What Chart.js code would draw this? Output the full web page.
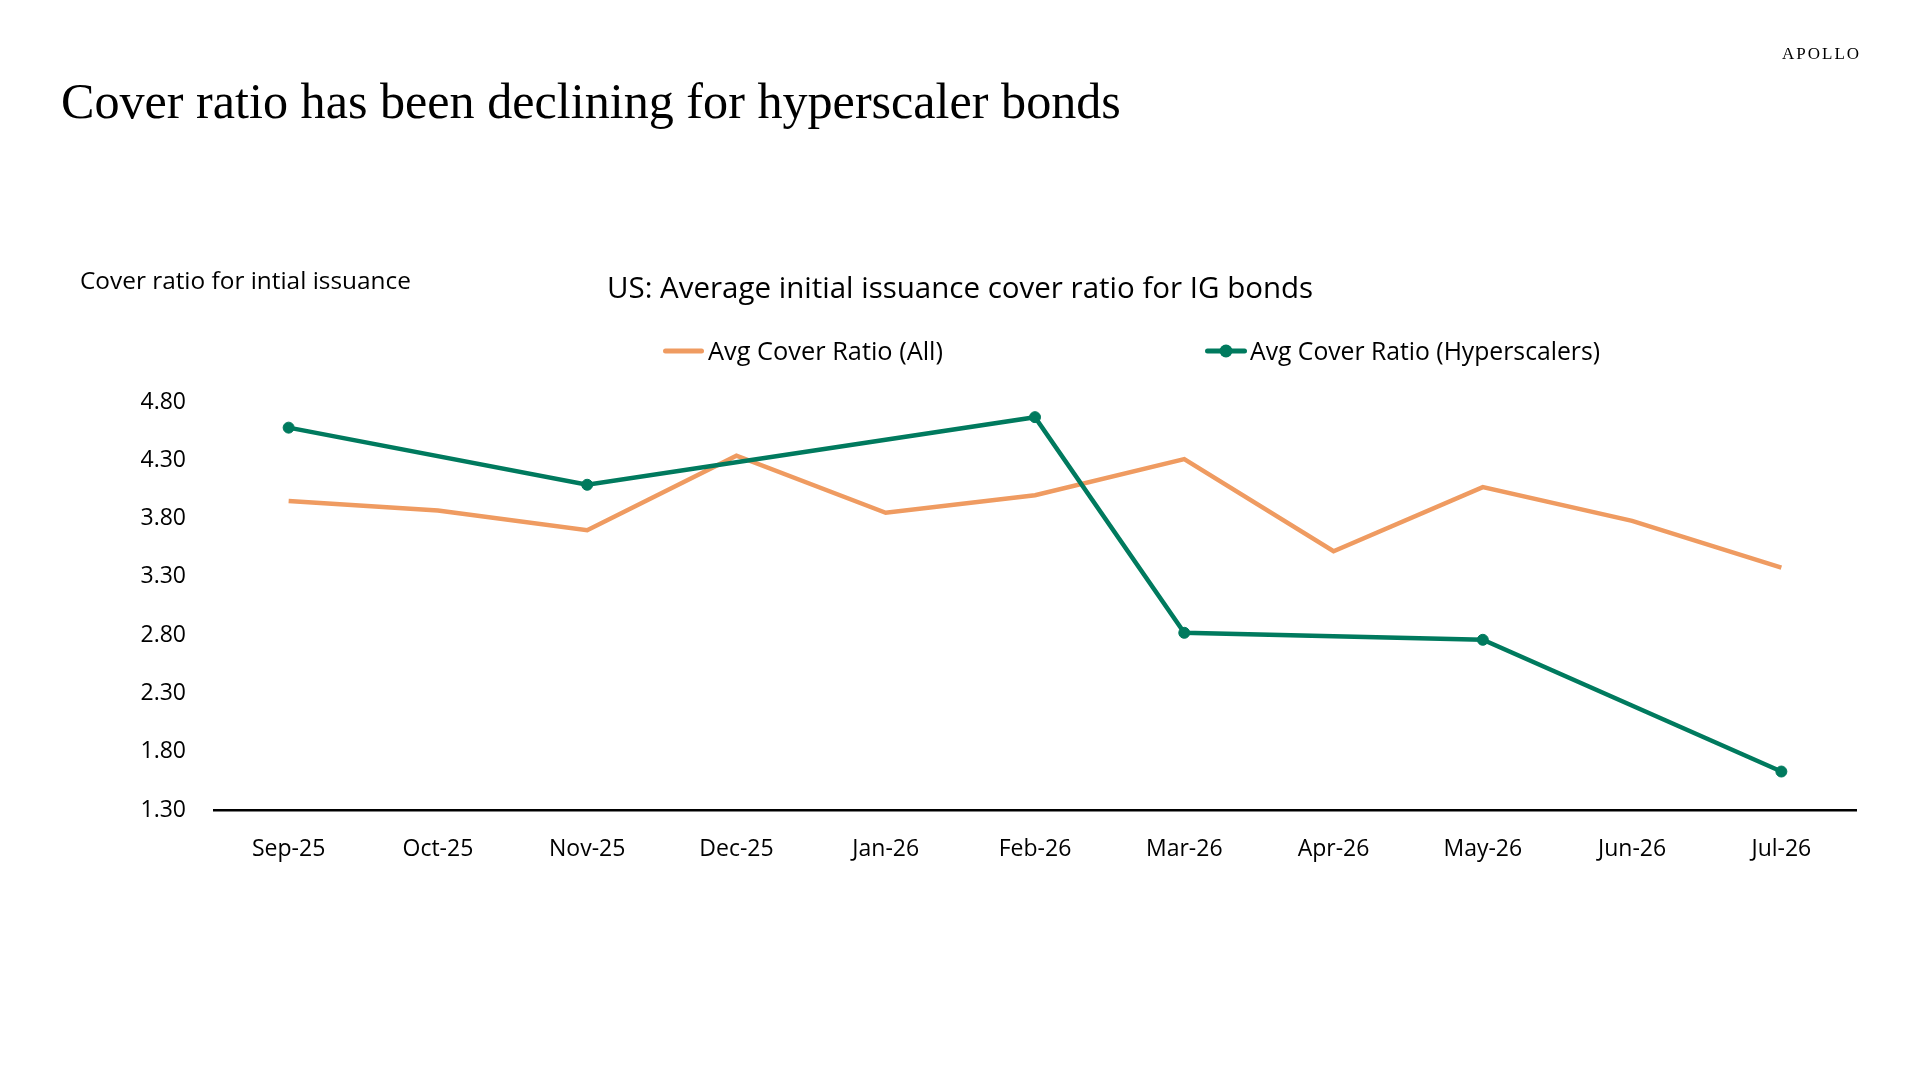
<!DOCTYPE html>
<html>
<head>
<meta charset="utf-8">
<script src="https://cdn.jsdelivr.net/npm/chart.js@4.4.1/dist/chart.umd.min.js"></script>
<style>
  html, body { margin: 0; padding: 0; background: #fff; }
  body { width: 1919px; height: 1079px; position: relative; overflow: hidden; }
  .t { position: absolute; white-space: nowrap; color: #000; line-height: 1; transform: translateY(-50%); }
  #title { font-family: "Liberation Serif", "DejaVu Serif", serif; font-size: 52px; }
  #logo { font-family: "Liberation Serif", serif; font-size: 18px; letter-spacing: 2px; }
  .sans { font-family: "Open Sans", "Noto Sans", sans-serif; }
  #wrap { position: absolute; left: 0; top: 0; width: 1919px; height: 1079px; }
  .sw { position: absolute; height: 5px; border-radius: 3px; transform: translateY(-50%); }
  .dot { position: absolute; width: 13px; height: 13px; border-radius: 50%; transform: translate(-50%, -50%); }
</style>
</head>
<body>
<div id="wrap"><canvas id="c" width="1919" height="1079"></canvas></div>
<div class="t" id="logo" data-x="1782" data-y="54" data-w="79">APOLLO</div>
<div class="t" id="title" data-x="61" data-y="101" data-w="1060">Cover ratio has been declining for hyperscaler bonds</div>
<div class="t sans" id="ytitle" style="font-size:22px" data-x="80" data-y="280" data-w="331">Cover ratio for intial issuance</div>
<div class="t sans" id="ctitle" style="font-size:29px" data-x="607" data-y="287" data-w="706">US: Average initial issuance cover ratio for IG bonds</div>
<div class="sw" id="sw1" style="left:663px; top:351px; width:41px;"></div>
<div class="t sans" id="lg1" style="font-size:24px" data-x="708" data-y="351" data-w="235"></div>
<div class="sw" id="sw2" style="left:1205px; top:351px; width:42px;"></div>
<div class="dot" id="dot2" style="left:1226px; top:351px;"></div>
<div class="t sans" id="lg2" style="font-size:24px" data-x="1250" data-y="351" data-w="350"></div>
<script>
// ---- data ----
const months = ["Sep-25","Oct-25","Nov-25","Dec-25","Jan-26","Feb-26","Mar-26","Apr-26","May-26","Jun-26","Jul-26"];
const seriesAllName = "Avg Cover Ratio (All)";
const seriesHypName = "Avg Cover Ratio (Hyperscalers)";
const avgAll = [3.95, 3.87, 3.70, 4.34, 3.85, 4.00, 4.31, 3.52, 4.07, 3.78, 3.38];
const avgHyper = [4.58, null, 4.09, null, null, 4.67, 2.82, null, 2.76, null, 1.63];
const yTicks = [1.30, 1.80, 2.30, 2.80, 3.30, 3.80, 4.30, 4.80];

const ORANGE = "#EF9B61";
const GREEN = "#007A5E";

document.getElementById('lg1').textContent = seriesAllName;
document.getElementById('lg2').textContent = seriesHypName;
document.getElementById('sw1').style.background = ORANGE;
document.getElementById('sw2').style.background = GREEN;
document.getElementById('dot2').style.background = GREEN;

function place() {
  document.querySelectorAll('.t').forEach(el => {
    el.style.left = el.dataset.x + 'px';
    el.style.top = el.dataset.y + 'px';
    const target = parseFloat(el.dataset.w);
    const w = el.getBoundingClientRect().width;
    const fs = parseFloat(getComputedStyle(el).fontSize);
    if (w > 0 && target) el.style.fontSize = (fs * target / w) + 'px';
  });
}

const SANS = '"Open Sans", "Noto Sans", sans-serif';

new Chart(document.getElementById('c'), {
  type: 'line',
  data: {
    labels: months,
    datasets: [
      {
        label: seriesAllName,
        data: avgAll,
        borderColor: ORANGE,
        backgroundColor: ORANGE,
        borderWidth: 4.5,
        pointRadius: 0,
        pointHoverRadius: 0,
        tension: 0,
        order: 2
      },
      {
        label: seriesHypName,
        data: avgHyper,
        borderColor: GREEN,
        backgroundColor: GREEN,
        borderWidth: 4.5,
        pointRadius: 5.5,
        pointBorderWidth: 1,
        pointBackgroundColor: GREEN,
        pointBorderColor: GREEN,
        spanGaps: true,
        tension: 0,
        order: 1
      }
    ]
  },
  options: {
    responsive: false,
    animation: false,
    devicePixelRatio: 1,
    layout: { padding: { left: 0, top: 402, right: 63, bottom: 209 } },
    plugins: { legend: { display: false }, title: { display: false }, tooltip: { enabled: false } },
    scales: {
      x: {
        offset: true,
        grid: { display: false, drawTicks: false },
        border: { display: true, color: '#000', width: 2.5 },
        ticks: { color: '#000', font: { family: SANS, size: 23 }, padding: 26, maxRotation: 0, autoSkip: false },
        afterFit: s => { s.height = 60; }
      },
      y: {
        min: 1.3,
        max: 4.8,
        grid: { display: false, drawTicks: false },
        border: { display: false },
        afterBuildTicks: s => { s.ticks = yTicks.map(v => ({ value: v })); },
        ticks: { color: '#000', font: { family: SANS, size: 23 }, padding: 28, callback: v => Number(v).toFixed(2) },
        afterFit: s => { s.width = 214; }
      }
    }
  }
});

if (document.fonts && document.fonts.ready) { document.fonts.ready.then(place); } else { place(); }
place();
</script>
</body>
</html>
